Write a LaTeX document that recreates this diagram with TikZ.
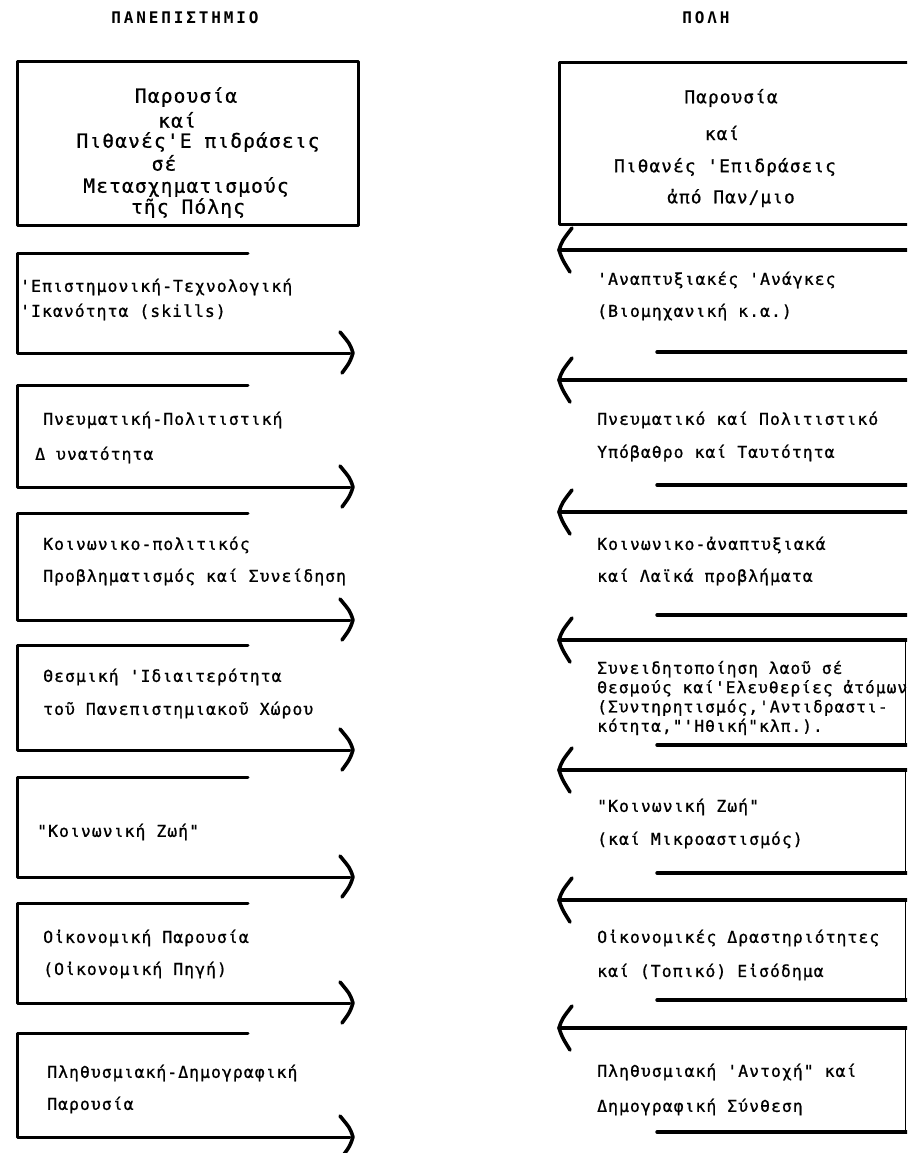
\documentclass[tikz,border=0pt]{standalone}
\usepackage{fontspec}
\newfontfamily\tw[LetterSpace=6,FakeBold=0.8]{DejaVu Sans Mono}
\newfontfamily\twt[LetterSpace=18]{DejaVu Sans Mono}
\tikzset{
  frame/.style={line width=3pt, line join=round, line cap=round},
  bar/.style={line width=3.4pt, line cap=round},
  tiphead/.style={line width=3.6pt, line cap=round, line join=round},
  edge/.style={line width=1.4pt},
  txt/.style={anchor=west, inner sep=0pt, font=\tw\fontsize{16.5}{19}\selectfont},
  small/.style={anchor=west, inner sep=0pt, align=left, font=\tw\fontsize{16.3}{19.3}\selectfont},
  ttl/.style={inner sep=0pt, font=\twt\bfseries\fontsize{16}{18}\selectfont},
  bigl/.style={inner sep=0pt, font=\tw\fontsize{19.5}{22}\selectfont},
  bigr/.style={inner sep=0pt, font=\tw\fontsize{17.8}{20}\selectfont},
}
\begin{document}
\begin{tikzpicture}[x=1pt,y=-1pt]
\useasboundingbox[fill=white] (0,0) rectangle (907,1153);
\clip (0,0) rectangle (907,1153);

% titles
\node[ttl] (tl) at (185,18) {ΠΑΝΕΠΙΣΤΗΜΙΟ};
\node[ttl] (tr) at (706,18) {ΠΟΛΗ};

% top left box
\draw[frame] (17,62) rectangle (358,225);
\node[bigl] (hl1) at (186,97) {Παρουσία};
\node[bigl] (hl2) at (177,120) {καί};
\node[bigl] (hl3) at (198,142) {Πιθανές'Ε πιδράσεις};
\node[bigl] (hl4) at (164,163) {σέ};
\node[bigl] (hl5) at (186,187) {Μετασχηματισμούς};
\node[bigl] (hl6) at (188,208) {τῆς Πόλης};

% top right box
\draw[frame] (915,63) -- (559,63) -- (559,224) -- (915,224);
\node[bigr] (hr1) at (731,98) {Παρουσία};
\node[bigr] (hr2) at (722,133) {καί};
\node[bigr] (hr3) at (725,167) {Πιθανές 'Επιδράσεις};
\node[bigr] (hr4) at (731,198) {ἀπό Παν/μιο};

% left shapes
\foreach \t/\b in {253/353, 385/487, 513/620, 645/750, 777/877, 903/1003, 1033/1137} {
  \draw[frame] (248,\t) -- (17,\t) -- (17,\b) -- (350,\b);
  \draw[tiphead] (340,\b-21) .. controls (350,\b-9) .. (353,\b) .. controls (350,\b+9) .. (342,\b+20);
}

% right shapes
\foreach \t/\b in {250/352, 380/485, 512/615, 640/745, 770/873, 900/1000, 1028/1132} {
  \draw[bar] (559,\t) -- (915,\t);
  \draw[bar] (657,\b) -- (915,\b);
  \draw[tiphead] (572,\t-22) .. controls (562,\t-9) .. (559,\t) .. controls (562,\t+9) .. (570,\t+22);
}
\foreach \t/\b in {640/745, 770/873, 900/1000, 1028/1132} {
  \draw[edge] (905.5,\t) -- (905.5,\b);
}

% left texts
\node[txt] (a1) at (20,287) {'Επιστημονική-Τεχνολογική};
\node[txt] (a2) at (20,312) {'Ικανότητα (skills)};
\node[txt] (b1) at (43,420) {Πνευματική-Πολιτιστική};
\node[txt] (b2) at (35,455) {Δ υνατότητα};
\node[txt] (c1) at (43,545) {Κοινωνικο-πολιτικός};
\node[txt] (c2) at (43,577) {Προβληματισμός καί Συνείδηση};
\node[txt] (d1) at (43,677) {Θεσμική 'Ιδιαιτερότητα};
\node[txt] (d2) at (43,710) {τοῦ Πανεπιστημιακοῦ Χώρου};
\node[txt] (e1) at (37,832) {"Κοινωνική Ζωή"};
\node[txt] (f1) at (43,938) {Οἰκονομική Παρουσία};
\node[txt] (f2) at (43,970) {(Οἰκονομική Πηγή)};
\node[txt] (g1) at (47,1073) {Πληθυσμιακή-Δημογραφική};
\node[txt] (g2) at (47,1105) {Παρουσία};

% right texts
\node[txt] (p1) at (597,280) {'Αναπτυξιακές 'Ανάγκες};
\node[txt] (p2) at (597,312) {(Βιομηχανική κ.α.)};
\node[txt] (q1) at (597,420) {Πνευματικό καί Πολιτιστικό};
\node[txt] (q2) at (597,453) {Υπόβαθρο καί Ταυτότητα};
\node[txt] (r1) at (597,545) {Κοινωνικο-ἀναπτυξιακά};
\node[txt] (r2) at (597,577) {καί Λαϊκά προβλήματα};
\node[small] (s1) at (597,698) {Συνειδητοποίηση λαοῦ σέ\\Θεσμούς καί'Ελευθερίες ἀτόμων\\(Συντηρητισμός,'Αντιδραστι-\\κότητα,"'Ηθική"κλπ.).};
\node[txt] (u1) at (597,807) {"Κοινωνική Ζωή"};
\node[txt] (u2) at (597,840) {(καί Μικροαστισμός)};
\node[txt] (v1) at (597,938) {Οἰκονομικές Δραστηριότητες};
\node[txt] (v2) at (597,972) {καί (Τοπικό) Εἰσόδημα};
\node[txt] (w1) at (597,1072) {Πληθυσμιακή 'Αντοχή" καί};
\node[txt] (w2) at (597,1107) {Δημογραφική Σύνθεση};
\end{tikzpicture}
\end{document}
